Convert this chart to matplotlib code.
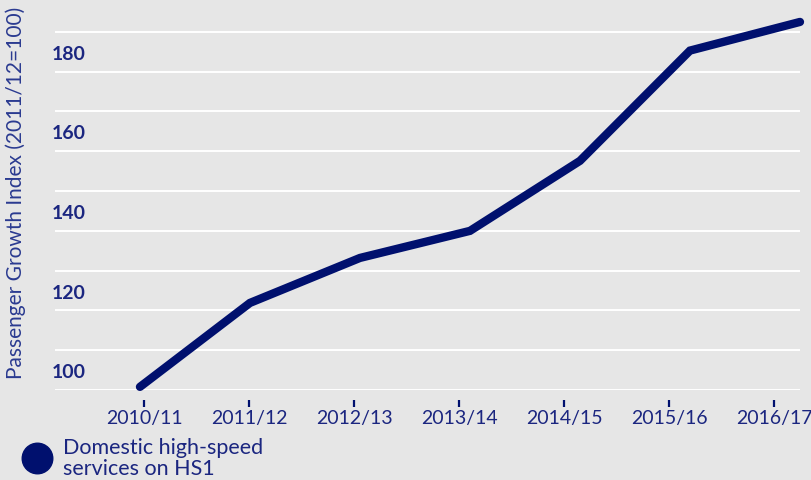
import matplotlib.pyplot as plt
from matplotlib.lines import Line2D

# values
years = ["2010/11", "2011/12", "2012/13", "2013/14", "2014/15", "2015/16", "2016/17"]
index_values = [95.8, 116.9, 128.2, 135.0, 152.6, 180.3, 187.5]
ytick_values = [100, 120, 140, 160, 180]
grid_values = [95, 105, 115, 125, 135, 145, 155, 165, 175, 185]
series_label = "Domestic high-speed\nservices on HS1"

navy = "#00106e"
text_navy = "#1b2680"
bg = "#e6e6e6"

plt.rcParams["font.family"] = ["Lato", "DejaVu Sans"]

fig = plt.figure(figsize=(8.12, 4.81), dpi=100)
fig.patch.set_facecolor(bg)
ax = fig.add_axes([0.0677, 0.187, 0.9175, 0.786])
ax.set_facecolor(bg)
# move the spine first, it resets the tick settings
ax.spines["bottom"].set_position(("outward", 7))

for g in grid_values:
    ax.axhline(g, color="white", linewidth=1.4, zorder=1)

x = list(range(len(years)))
ax.plot(x, index_values, color=navy, linewidth=6, solid_capstyle="round",
        solid_joinstyle="miter", clip_on=False, zorder=3)

ax.set_xlim(-0.7727, 6.0)
ax.set_ylim(95, 190)

# category ticks are spaced a little tighter than the data points
tick_pos = [(4 + 105 * i) / 110 for i in range(len(years))]
ax.set_xticks(tick_pos)
ax.set_xticklabels(years, fontsize=14, color=text_navy)
ax.tick_params(axis="x", length=5, width=1.6, color=navy, pad=2)

ax.set_yticks(ytick_values)
ax.set_yticklabels([str(v) for v in ytick_values], fontsize=14,
                   fontweight="bold", color=text_navy, ha="left")
ax.tick_params(axis="y", length=0, pad=2.2)

for s in ax.spines.values():
    s.set_visible(False)

fig.text(0.019, 0.599, "Passenger Growth Index (2011/12=100)", rotation=90,
         ha="center", va="center", fontsize=15, color="#2a3a90")

handle = Line2D([], [], marker="o", markersize=22, color=navy, linestyle="none")
fig.legend(handles=[handle], labels=[series_label], loc="upper left",
           bbox_to_anchor=(0.014, 0.108), frameon=False, fontsize=15.5,
           labelcolor=text_navy, handletextpad=0.4, borderaxespad=0,
           handlelength=1.6, labelspacing=0.1)
for t in fig.legends[0].get_texts():
    t.set_linespacing(1.1)

fig.savefig("out.png", dpi=100, facecolor=bg)
